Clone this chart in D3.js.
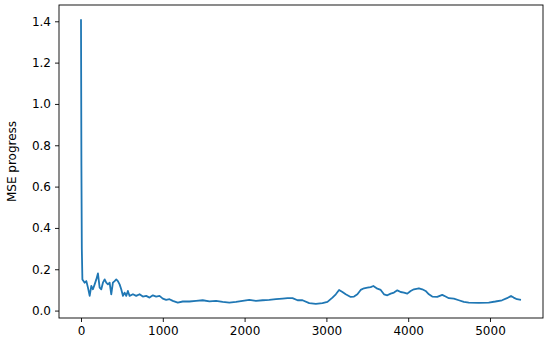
<!DOCTYPE html>
<html>
<head>
<meta charset="utf-8">
<script src="https://cdn.jsdelivr.net/npm/d3@7"></script>
<style>
  body { margin: 0; background: #fff; }
  svg { display: block; font-family: "DejaVu Sans", sans-serif; }
</style>
</head>
<body>
<svg id="chart" width="550" height="345"></svg>
<script>
const steps = [0, 5, 10, 17, 45, 65, 85, 106, 126, 146, 167, 187, 207, 228, 248, 268, 289, 309, 329, 350, 370, 390, 411, 431, 451, 472, 492, 513, 533, 553, 573, 594, 635, 675, 716, 756, 797, 838, 879, 919, 960, 1000, 1041, 1082, 1122, 1183, 1244, 1325, 1407, 1488, 1570, 1651, 1732, 1814, 1895, 1976, 2057, 2139, 2220, 2301, 2383, 2464, 2525, 2586, 2647, 2708, 2790, 2871, 2952, 3013, 3074, 3115, 3155, 3196, 3236, 3297, 3338, 3379, 3419, 3460, 3501, 3541, 3574, 3623, 3664, 3704, 3745, 3786, 3826, 3867, 3908, 3948, 3989, 4030, 4070, 4131, 4172, 4213, 4253, 4294, 4355, 4416, 4457, 4497, 4558, 4619, 4680, 4741, 4863, 4985, 5066, 5147, 5208, 5257, 5289, 5330, 5379];
const mse = [1.41, 0.70, 0.30, 0.151, 0.135, 0.143, 0.111, 0.071, 0.119, 0.103, 0.127, 0.151, 0.18, 0.111, 0.103, 0.135, 0.151, 0.135, 0.127, 0.135, 0.079, 0.135, 0.143, 0.151, 0.143, 0.127, 0.103, 0.071, 0.087, 0.071, 0.095, 0.071, 0.079, 0.071, 0.079, 0.068, 0.071, 0.063, 0.074, 0.068, 0.071, 0.058, 0.052, 0.055, 0.047, 0.039, 0.044, 0.044, 0.047, 0.050, 0.045, 0.047, 0.042, 0.039, 0.042, 0.047, 0.052, 0.047, 0.050, 0.052, 0.055, 0.058, 0.060, 0.060, 0.050, 0.050, 0.036, 0.033, 0.036, 0.042, 0.063, 0.079, 0.100, 0.090, 0.079, 0.066, 0.068, 0.079, 0.100, 0.108, 0.111, 0.114, 0.119, 0.106, 0.100, 0.079, 0.074, 0.082, 0.087, 0.098, 0.090, 0.087, 0.082, 0.095, 0.103, 0.108, 0.103, 0.095, 0.079, 0.068, 0.066, 0.076, 0.068, 0.060, 0.058, 0.050, 0.042, 0.039, 0.037, 0.039, 0.044, 0.050, 0.060, 0.071, 0.063, 0.055, 0.052];
const xTicks = [0, 1000, 2000, 3000, 4000, 5000];
const yTicks = [0.0, 0.2, 0.4, 0.6, 0.8, 1.0, 1.2, 1.4];

const svg = d3.select("svg#chart");
const margin = {left: 59, right: 7, top: 5, bottom: 27};
const width = 550, height = 345;

const data = steps.map((s, i) => ({x: s, y: mse[i]}));

// matplotlib style 5% margins around data range
const [x0, x1] = d3.extent(steps);
const [y0, y1] = d3.extent(mse);
const xpad = (x1 - x0) * 0.05, ypad = (y1 - y0) * 0.05;

const x = d3.scaleLinear()
  .domain([x0 - xpad, x1 + xpad])
  .range([margin.left, width - margin.right]);
const y = d3.scaleLinear()
  .domain([y0 - ypad, y1 + ypad])
  .range([height - margin.bottom, margin.top]);

svg.append("g")
  .attr("transform", `translate(0,${height - margin.bottom})`)
  .call(d3.axisBottom(x).tickValues(xTicks).tickFormat(d3.format("d")).tickSize(4).tickPadding(4))
  .call(g => g.select(".domain").remove());

svg.append("g")
  .attr("transform", `translate(${margin.left},0)`)
  .call(d3.axisLeft(y).tickValues(yTicks).tickFormat(d3.format(".1f")).tickSize(4).tickPadding(4))
  .call(g => g.select(".domain").remove());

svg.selectAll(".tick text")
  .attr("font-size", 12)
  .attr("font-family", "DejaVu Sans, sans-serif")
  .attr("fill", "#000");
svg.selectAll(".tick line").attr("stroke", "#000").attr("stroke-width", 0.9);

svg.append("path")
  .datum(data)
  .attr("fill", "none")
  .attr("stroke", "#1f77b4")
  .attr("stroke-width", 1.8)
  .attr("stroke-linejoin", "round")
  .attr("d", d3.line().x(d => x(d.x)).y(d => y(d.y)));

svg.append("rect")
  .attr("x", margin.left)
  .attr("y", margin.top)
  .attr("width", width - margin.left - margin.right)
  .attr("height", height - margin.top - margin.bottom)
  .attr("fill", "none")
  .attr("stroke", "#000")
  .attr("stroke-width", 0.9);

svg.append("text")
  .attr("transform", `translate(16,${(margin.top + height - margin.bottom) / 2}) rotate(-90)`)
  .attr("text-anchor", "middle")
  .attr("font-size", 12)
  .text("MSE progress");
</script>
</body>
</html>
